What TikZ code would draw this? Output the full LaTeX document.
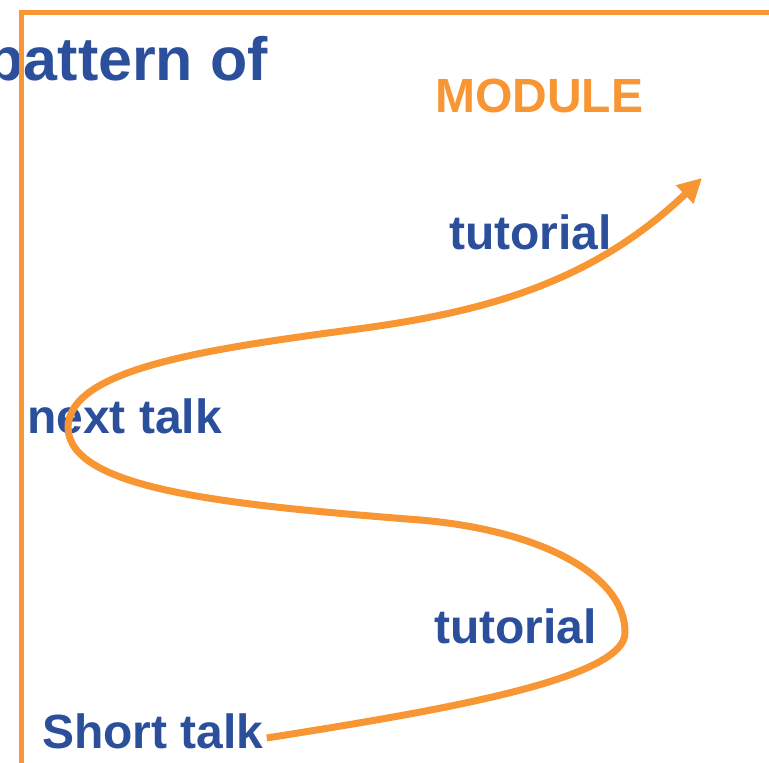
\documentclass[tikz,border=0pt]{standalone}
\usepackage{fontspec}
\setmainfont{Liberation Sans}
\usetikzlibrary{arrows.meta}
\definecolor{orng}{RGB}{247,150,51}
\definecolor{blu}{RGB}{43,79,155}
\tikzset{
  lbl/.style={inner sep=0pt, anchor=base west, text=blu, font=\fontsize{48}{52}\selectfont\bfseries},
  flow/.style={draw=orng, line width=7pt, -{Triangle[length=24pt,width=24pt]}},
  frame/.style={draw=orng, line width=4.5pt}
}
\begin{document}
\begin{tikzpicture}[x=1pt,y=-1pt]
\useasboundingbox (0,0) rectangle (769,763);
\node[lbl, anchor=base east, font=\fontsize{61}{66}\selectfont\bfseries] (pat) at (268,80) {pattern of};
\node[lbl, text=orng] (mod) at (435,112) {MODULE};
\node[lbl] (tut1) at (449,249) {tutorial};
\node[lbl] (next) at (27,433) {next talk};
\node[lbl] (tut2) at (434,643) {tutorial};
\node[lbl] (st) at (42,748) {Short talk};
\coordinate (r) at (625,632);
\coordinate (m1) at (420,520);
\coordinate (l) at (68,428);
\coordinate (m2) at (350,330);
\coordinate (tip) at (702,178);
\draw[flow] ([xshift=3pt,yshift=10pt]st.base east) .. controls (430,712) and (627,680) .. (r)
  .. controls (625,575) and (540,530) .. (m1)
  .. controls (230,505) and (70,490) .. (l)
  .. controls (68,370) and (200,350) .. (m2)
  .. controls (480,313) and (590,285) .. (tip);
\draw[frame] (21.5,770) -- (21.5,12.5) -- (780,12.5);
\end{tikzpicture}
\end{document}
